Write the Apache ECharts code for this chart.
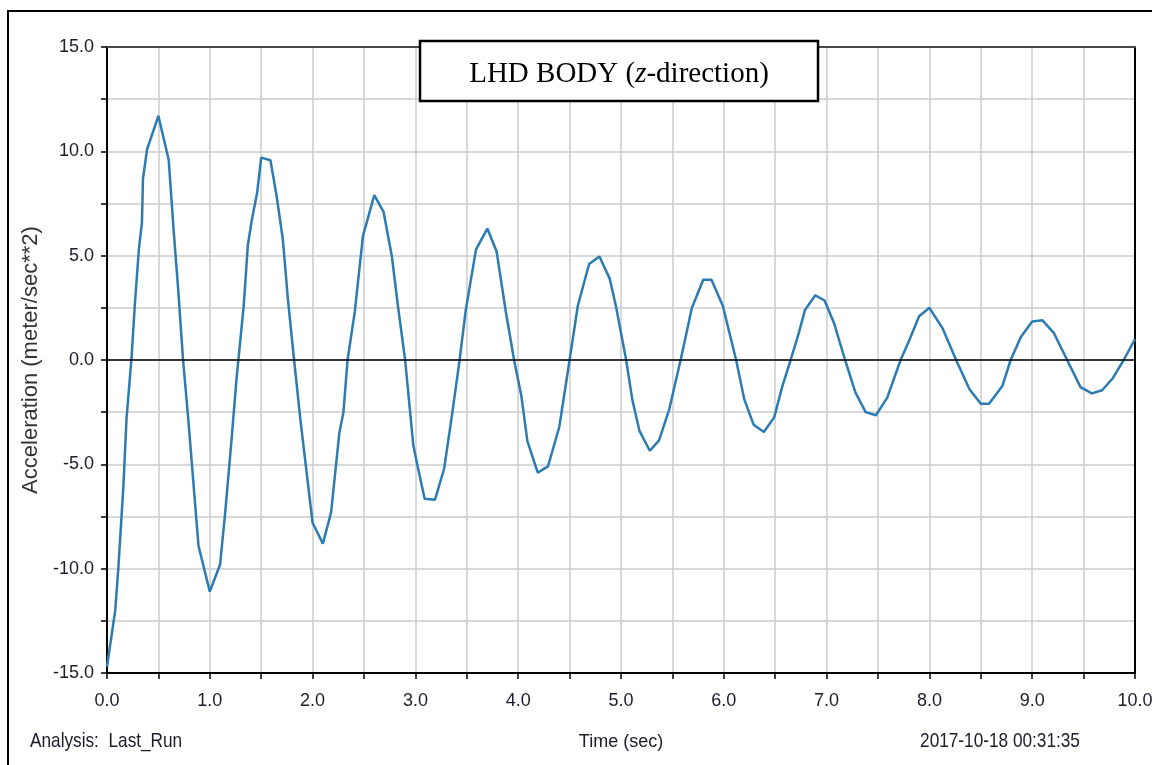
<!DOCTYPE html>
<html>
<head>
<meta charset="utf-8">
<script src="https://cdn.jsdelivr.net/npm/echarts@6/dist/echarts.min.js"></script>
<style>
  html, body { margin: 0; padding: 0; background: #fff; }
  #chart { width: 1152px; height: 765px; }
</style>
</head>
<body>
<div id="chart"></div>
<script>
// ---- Data ----
const timeSec = [
  0.00, 0.08, 0.11, 0.16, 0.19, 0.24, 0.27, 0.31, 0.34, 0.35, 0.39, 0.50, 0.60, 0.65, 0.69, 0.74, 0.79, 0.84, 0.89,
  1.00, 1.10, 1.15, 1.21, 1.26, 1.33, 1.37, 1.41, 1.46, 1.50, 1.59, 1.65, 1.71, 1.76, 1.82, 1.88, 1.93,
  2.00, 2.10, 2.18, 2.26, 2.30, 2.34, 2.41, 2.49, 2.60, 2.69, 2.77, 2.83, 2.90, 2.98,
  3.02, 3.09, 3.19, 3.28, 3.36, 3.43, 3.49, 3.59, 3.70, 3.79, 3.88, 3.96,
  4.03, 4.09, 4.19, 4.29, 4.40, 4.50, 4.58, 4.69, 4.79, 4.89, 4.95,
  5.05, 5.11, 5.18, 5.28, 5.37, 5.47, 5.58, 5.69, 5.80, 5.88, 5.99,
  6.12, 6.20, 6.29, 6.39, 6.49, 6.57, 6.65, 6.73, 6.79, 6.89, 6.98,
  7.07, 7.18, 7.28, 7.38, 7.48, 7.59, 7.72, 7.80, 7.90,
  8.00, 8.13, 8.26, 8.39, 8.50, 8.58, 8.71, 8.79, 8.89,
  9.00, 9.10, 9.21, 9.34, 9.47, 9.58, 9.68, 9.78, 9.89, 10.00
];
const accel = [
  -14.7, -12.0, -10.0, -6.0, -2.8, 0.2, 2.6, 5.3, 6.6, 8.7, 10.1, 11.7, 9.6, 6.1, 3.55, 0.0, -2.8, -5.85, -8.9,
  -11.1, -9.8, -7.3, -3.9, -0.9, 2.6, 5.5, 6.75, 8.0, 9.7, 9.57, 7.86, 5.8, 2.9, 0.0, -2.8, -4.9,
  -7.8, -8.8, -7.3, -3.5, -2.5, 0.0, 2.3, 5.95, 7.9, 7.1, 5.0, 2.6, 0.0, -4.1,
  -5.06, -6.65, -6.7, -5.2, -2.5, 0.0, 2.4, 5.3, 6.3, 5.2, 2.3, 0.0,
  -1.7, -3.9, -5.4, -5.1, -3.2, 0.0, 2.6, 4.6, 4.96, 3.9, 2.6,
  0.0, -1.9, -3.4, -4.35, -3.85, -2.35, 0.0, 2.5, 3.85, 3.85, 2.6,
  0.0, -1.9, -3.1, -3.45, -2.75, -1.25, 0.0, 1.3, 2.4, 3.1, 2.85,
  1.8, 0.0, -1.55, -2.5, -2.65, -1.8, 0.0, 0.9, 2.1,
  2.5, 1.5, 0.0, -1.4, -2.1, -2.1, -1.25, 0.0, 1.1,
  1.85, 1.9, 1.3, 0.0, -1.3, -1.6, -1.45, -0.9, 0.0, 1.0
];
const xTickLabels = ['0.0','1.0','2.0','3.0','4.0','5.0','6.0','7.0','8.0','9.0','10.0'];
const yTickLabels = ['-15.0','-10.0','-5.0','0.0','5.0','10.0','15.0'];
const chartTitle = 'LHD BODY (';
const chartTitleItalic = 'z';
const chartTitleEnd = '-direction)';
const xName = 'Time (sec)';
const yName = 'Acceleration (meter/sec**2)';
const analysisText = 'Analysis:  Last_Run';
const stampText = '2017-10-18 00:31:35';

// ---- Build ----
const seriesData = timeSec.map((t, i) => [t, accel[i]]);
const SANS = '"Liberation Sans", Arial, sans-serif';
const labelColor = '#1c1c2a';

function fmtLabel(v, list) {
  const s = v.toFixed(1);
  return list.indexOf(s) >= 0 ? s : '';
}

const chart = echarts.init(document.getElementById('chart'), null, { renderer: 'canvas' });
chart.setOption({
  animation: false,
  backgroundColor: '#ffffff',
  grid: { left: 107, top: 47, right: 17, bottom: 92, containLabel: false, outerBoundsMode: 'none' },
  xAxis: [
    {
      type: 'value', min: 0, max: 10, interval: 0.5, position: 'bottom',
      name: xName, nameLocation: 'middle', nameGap: 60,
      nameTextStyle: { fontFamily: SANS, fontSize: 18, color: labelColor },
      axisLine: { show: true, onZero: false, lineStyle: { color: '#000', width: 2 } },
      axisTick: { show: true, inside: false, length: 6, lineStyle: { color: '#000', width: 1.5 } },
      axisLabel: { show: true, margin: 19, fontFamily: SANS, fontSize: 18, color: labelColor,
                   showMaxLabel: true, hideOverlap: false, formatter: v => fmtLabel(v, xTickLabels) },
      splitLine: { show: true, lineStyle: { color: '#cdcdcd', width: 1.5 } }
    },
    {
      type: 'value', min: 0, max: 10, position: 'top',
      axisLine: { show: true, onZero: false, lineStyle: { color: '#4a4a4a', width: 2 } },
      axisTick: { show: false }, axisLabel: { show: false }, splitLine: { show: false }
    }
  ],
  yAxis: [
    {
      type: 'value', min: -15, max: 15, interval: 2.5, position: 'left',
      name: yName, nameLocation: 'middle', nameGap: 64, nameRotate: 90,
      nameTextStyle: { fontFamily: SANS, fontSize: 22, color: '#333' },
      axisLine: { show: true, onZero: false, lineStyle: { color: '#000', width: 2 } },
      axisTick: { show: true, inside: false, length: 6, lineStyle: { color: '#000', width: 1.5 } },
      axisLabel: { show: true, margin: 13, fontFamily: SANS, fontSize: 18, color: labelColor,
                   formatter: v => fmtLabel(v, yTickLabels) },
      splitLine: { show: true, lineStyle: { color: '#cdcdcd', width: 1.5 } }
    },
    {
      type: 'value', min: -15, max: 15, position: 'right',
      axisLine: { show: true, onZero: false, lineStyle: { color: '#000', width: 2 } },
      axisTick: { show: false }, axisLabel: { show: false }, splitLine: { show: false }
    }
  ],
  series: [
    {
      type: 'line', xAxisIndex: 0, yAxisIndex: 0,
      data: seriesData, showSymbol: false, symbol: 'none', smooth: false,
      lineStyle: { color: '#2c7bb1', width: 2.5 },
      markLine: {
        silent: true, symbol: ['none', 'none'], animation: false,
        label: { show: false },
        lineStyle: { color: '#000', width: 1.5, type: 'solid' },
        data: [{ yAxis: 0 }]
      },
      z: 3
    }
  ],
  graphic: [
    {
      type: 'rect', z: 100, silent: true,
      shape: { x: 8, y: 11, width: 1200, height: 800 },
      style: { fill: 'none', stroke: '#000', lineWidth: 2 }
    },
    {
      type: 'rect', z: 100, silent: true,
      shape: { x: 420, y: 41, width: 398, height: 60 },
      style: { fill: '#fff', stroke: '#000', lineWidth: 2.5 }
    },
    {
      type: 'text', z: 101, silent: true,
      x: 619, y: 74,
      style: {
        text: '{n|' + chartTitle + '}{i|' + chartTitleItalic + '}{n|' + chartTitleEnd + '}',
        align: 'center', verticalAlign: 'middle',
        rich: {
          n: { fontFamily: '"Liberation Serif", "Times New Roman", serif', fontSize: 29, fill: '#000' },
          i: { fontFamily: '"Liberation Serif", "Times New Roman", serif', fontSize: 29, fontStyle: 'italic', fill: '#000' }
        }
      }
    },
    {
      type: 'text', z: 101, silent: true,
      x: 30, y: 741, scaleX: 0.82,
      style: { text: analysisText, fontFamily: SANS, fontSize: 21, fill: labelColor,
               align: 'left', verticalAlign: 'middle' }
    },
    {
      type: 'text', z: 101, silent: true,
      x: 1000, y: 741, scaleX: 0.82,
      style: { text: stampText, fontFamily: SANS, fontSize: 21, fill: labelColor,
               align: 'center', verticalAlign: 'middle' }
    }
  ]
});
</script>
</body>
</html>
